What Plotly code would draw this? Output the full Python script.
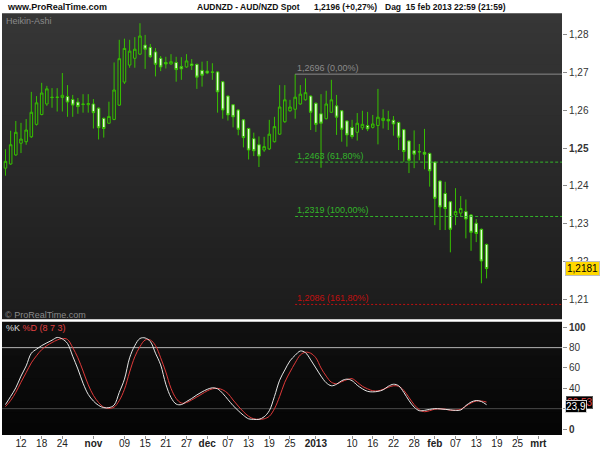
import plotly.graph_objects as go
import pandas as pd

# ---------------- data ----------------
dates = [d.strftime("%Y-%m-%d") for d in pd.bdate_range("2012-10-09", "2013-02-15")]
axis_days = [d.strftime("%Y-%m-%d") for d in pd.bdate_range("2012-10-09", "2013-03-08")]

open_ = [1.2447, 1.2458, 1.2482, 1.2513, 1.2517, 1.2530, 1.2563, 1.2589, 1.2617, 1.2635,
         1.2634, 1.2634, 1.2637, 1.2629, 1.2622, 1.2617, 1.2615, 1.2617, 1.2606, 1.2579,
         1.2566, 1.2576, 1.2614, 1.2675, 1.2720, 1.2738, 1.2749, 1.2773, 1.2767, 1.2755,
         1.2738, 1.2727, 1.2723, 1.2727, 1.2716, 1.2715, 1.2723, 1.2722, 1.2706, 1.2704,
         1.2702, 1.2702, 1.2676, 1.2638, 1.2615, 1.2601, 1.2575, 1.2552, 1.2525, 1.2509,
         1.2495, 1.2498, 1.2517, 1.2537, 1.2570, 1.2599, 1.2603, 1.2617, 1.2628, 1.2638,
         1.2619, 1.2591, 1.2578, 1.2595, 1.2612, 1.2599, 1.2572, 1.2555, 1.2542, 1.2554,
         1.2560, 1.2555, 1.2560, 1.2573, 1.2576, 1.2574, 1.2568, 1.2549, 1.2519, 1.2493,
         1.2491, 1.2489, 1.2486, 1.2463, 1.2413, 1.2380, 1.2358, 1.2323, 1.2328, 1.2332,
         1.2323, 1.2301, 1.2285, 1.2245]
high = [1.2497, 1.2546, 1.2572, 1.2567, 1.2577, 1.2649, 1.2638, 1.2673, 1.2665, 1.2659,
        1.2659, 1.2699, 1.2667, 1.2641, 1.2633, 1.2643, 1.2643, 1.2630, 1.2608, 1.2581,
        1.2623, 1.2727, 1.2787, 1.2790, 1.2787, 1.2794, 1.2831, 1.2800, 1.2776, 1.2765,
        1.2744, 1.2742, 1.2749, 1.2742, 1.2741, 1.2749, 1.2736, 1.2724, 1.2729, 1.2731,
        1.2725, 1.2704, 1.2678, 1.2640, 1.2617, 1.2603, 1.2577, 1.2554, 1.2541, 1.2531,
        1.2530, 1.2575, 1.2583, 1.2667, 1.2667, 1.2628, 1.2696, 1.2667, 1.2685, 1.2640,
        1.2621, 1.2643, 1.2652, 1.2681, 1.2641, 1.2601, 1.2574, 1.2575, 1.2593, 1.2599,
        1.2596, 1.2588, 1.2657, 1.2603, 1.2599, 1.2585, 1.2570, 1.2551, 1.2521, 1.2547,
        1.2511, 1.2551, 1.2488, 1.2465, 1.2415, 1.2411, 1.2360, 1.2394, 1.2373, 1.2364,
        1.2325, 1.2312, 1.2287, 1.2247]
low = [1.2427, 1.2456, 1.2480, 1.2487, 1.2509, 1.2527, 1.2560, 1.2587, 1.2612, 1.2607,
       1.2597, 1.2597, 1.2583, 1.2583, 1.2591, 1.2594, 1.2594, 1.2552, 1.2523, 1.2528,
       1.2564, 1.2574, 1.2612, 1.2670, 1.2713, 1.2713, 1.2747, 1.2710, 1.2739, 1.2690,
       1.2704, 1.2711, 1.2721, 1.2676, 1.2681, 1.2713, 1.2707, 1.2657, 1.2663, 1.2696,
       1.2681, 1.2594, 1.2578, 1.2573, 1.2555, 1.2534, 1.2502, 1.2470, 1.2479, 1.2450,
       1.2490, 1.2495, 1.2515, 1.2535, 1.2567, 1.2596, 1.2578, 1.2615, 1.2626, 1.2548,
       1.2543, 1.2448, 1.2576, 1.2593, 1.2535, 1.2517, 1.2504, 1.2525, 1.2520, 1.2548,
       1.2545, 1.2552, 1.2510, 1.2552, 1.2548, 1.2533, 1.2495, 1.2464, 1.2434, 1.2447,
       1.2468, 1.2444, 1.2398, 1.2296, 1.2283, 1.2283, 1.2224, 1.2296, 1.2320, 1.2261,
       1.2228, 1.2251, 1.2142, 1.2155]
close = [1.2465, 1.2509, 1.2542, 1.2524, 1.2548, 1.2595, 1.2620, 1.2646, 1.2657, 1.2634,
         1.2635, 1.2640, 1.2622, 1.2614, 1.2610, 1.2616, 1.2618, 1.2594, 1.2554, 1.2552,
         1.2584, 1.2654, 1.2737, 1.2764, 1.2757, 1.2762, 1.2797, 1.2762, 1.2742, 1.2722,
         1.2715, 1.2723, 1.2729, 1.2708, 1.2710, 1.2731, 1.2719, 1.2688, 1.2693, 1.2699,
         1.2701, 1.2649, 1.2601, 1.2588, 1.2583, 1.2550, 1.2528, 1.2495, 1.2493, 1.2479,
         1.2504, 1.2537, 1.2557, 1.2609, 1.2628, 1.2609, 1.2635, 1.2643, 1.2647, 1.2595,
         1.2563, 1.2566, 1.2617, 1.2628, 1.2582, 1.2550, 1.2535, 1.2531, 1.2566, 1.2563,
         1.2551, 1.2564, 1.2582, 1.2579, 1.2572, 1.2564, 1.2529, 1.2491, 1.2468, 1.2484,
         1.2490, 1.2484, 1.2440, 1.2367, 1.2344, 1.2340, 1.2285, 1.2332, 1.2340, 1.2312,
         1.2277, 1.2274, 1.2201, 1.2181]

stoch_k = [24, 32, 40.5, 52, 62, 74.5, 78.5, 82, 84.7, 87.3,
           90, 88.5, 84, 71.5, 59, 45, 34, 27.5, 23.2, 21,
           21, 23.5, 36, 49, 70, 82, 89, 89.5, 86, 74.5,
           63, 44, 31, 24.5, 24, 27, 30, 33.5, 36.5, 39,
           40.5, 39.5, 35, 29, 23, 18, 13.5, 10, 9.5, 9.5,
           12, 18, 32, 48, 58, 67, 72.5, 76.7, 75, 68,
           60, 52, 45.5, 42.5, 44, 47.5, 49, 47.5, 43, 39.5,
           37, 36.5, 37, 38.5, 42, 44, 42.5, 36, 28, 21.5,
           18, 18.3, 19.3, 20, 19.8, 19.3, 18.8, 18.3, 18.7, 23,
           26.5, 28, 27, 23.9]
stoch_d = [22, 28, 36, 46, 55.5, 65, 72, 78, 82, 85,
           87.5, 89, 88, 80, 70, 57, 43.5, 33, 26, 21.5,
           20.3, 21.5, 28, 39, 56, 71, 81, 87.5, 87.5, 82,
           70, 56, 40, 30, 25.5, 26, 28.5, 31.5, 34.5, 37.5,
           39.5, 40, 38.5, 35, 28.5, 22.5, 17, 12.5, 10, 9.5,
           10, 12.5, 20, 32, 46, 56, 65, 72.8, 75.5, 74.5,
           70, 60, 52, 46, 44.5, 46.5, 48.5, 49.5, 46, 42,
           39.5, 37.6, 37.5, 39, 41, 42.5, 42, 38, 31, 24,
           19, 17, 18, 19.5, 19.8, 19.5, 18.5, 18.5, 19.3, 22.5,
           25.5, 27.5, 27.5, 26.5]

tick_dates = ["2012-10-12", "2012-10-18", "2012-10-24", "2012-11-01", "2012-11-09",
              "2012-11-15", "2012-11-21", "2012-11-27", "2012-12-03", "2012-12-07",
              "2012-12-13", "2012-12-19", "2012-12-25", "2013-01-01", "2013-01-10",
              "2013-01-16", "2013-01-22", "2013-01-28", "2013-02-01", "2013-02-07",
              "2013-02-13", "2013-02-19", "2013-02-25", "2013-03-01"]
tick_labels = ["12", "18", "24", "<b>nov</b>", "09", "15", "21", "27", "<b>dec</b>", "07",
               "13", "19", "25", "<b>2013</b>", "10", "16", "22", "28", "<b>feb</b>", "07",
               "13", "19", "25", "<b>mrt</b>"]

price_ticks = [1.21, 1.22, 1.23, 1.24, 1.25, 1.26, 1.27, 1.28]
price_tick_labels = ["1,21", "1,22", "1,23", "1,24", "<b>1,25</b>", "1,26", "1,27", "1,28"]
stoch_ticks = [0, 20, 40, 60, 80, 100]
stoch_tick_labels = ["<b>0</b>", "20", "40", "60", "80", "<b>100</b>"]

fib_start = "2012-12-26"
fib_levels = [1.2696, 1.2463, 1.2319, 1.2086]
fib_labels = ["1,2696 (0,00%)", "1,2463 (61,80%)", "1,2319 (100,00%)", "1,2086 (161,80%)"]
fib_colors = ["#8a8a8a", "#33b52a", "#33b52a", "#c01010"]
fib_dash = ["solid", "3px,2px", "3px,2px", "2px,2px"]
last_price = 1.2181

# ---------------- positions ----------------
pos = {d: i for i, d in enumerate(axis_days)}
xc = [pos[d] for d in dates]
xt = [pos[d] for d in tick_dates]
x_range = [-0.67, 107.58]

W, H = 600, 450
main_top, main_bot = 13.3, 319.3
ind_top, ind_bot = 321.7, 435
px_l, px_r = 2, 562

def py(v):
    return 1 - v / H

fig = go.Figure()

# gradient background for the panels (overlapping bands to avoid seams)
shapes = []
n = 30
for k in range(n):
    y0 = main_top + (main_bot - main_top) * k / n
    y1 = min(main_bot, main_top + (main_bot - main_top) * (k + 1) / n + 1.5)
    c = int(round(54 - (54 - 28) * k / (n - 1)))
    shapes.append(dict(type="rect", xref="paper", yref="paper", x0=px_l / W, x1=px_r / W,
                       y0=py(y1), y1=py(y0), fillcolor=f"rgb({c},{c},{c})",
                       line=dict(width=0), layer="below"))
n2 = 10
for k in range(n2):
    y0 = ind_top + (ind_bot - ind_top) * k / n2
    y1 = min(ind_bot, ind_top + (ind_bot - ind_top) * (k + 1) / n2 + 1.5)
    c = int(round(16 - 11 * k / (n2 - 1)))
    shapes.append(dict(type="rect", xref="paper", yref="paper", x0=px_l / W, x1=px_r / W,
                       y0=py(y1), y1=py(y0), fillcolor=f"rgb({c},{c},{c})",
                       line=dict(width=0), layer="below"))

# Heikin-Ashi candles
fig.add_trace(go.Candlestick(
    x=xc, open=open_, high=high, low=low, close=close,
    increasing=dict(line=dict(color="#36c000", width=1), fillcolor="rgba(40,40,40,0.6)"),
    decreasing=dict(line=dict(color="#36c000", width=1), fillcolor="#e4ffd6"),
    whiskerwidth=0, xaxis="x", yaxis="y", showlegend=False, hoverinfo="skip"))

# Fibonacci levels
fx0 = pos[fib_start]
for lvl, col, dsh in zip(fib_levels, fib_colors, fib_dash):
    fig.add_trace(go.Scatter(x=[fx0, x_range[1] + 2], y=[lvl, lvl], mode="lines",
                             line=dict(color=col, width=1, dash=dsh),
                             xaxis="x", yaxis="y", showlegend=False, hoverinfo="skip"))

# stochastic
fig.add_trace(go.Scatter(x=[x_range[0], x_range[1]], y=[80, 80], mode="lines",
                         line=dict(color="#b4b4b4", width=1), xaxis="x2", yaxis="y2",
                         showlegend=False, hoverinfo="skip"))
fig.add_trace(go.Scatter(x=[x_range[0], x_range[1]], y=[20, 20], mode="lines",
                         line=dict(color="#4a4a4a", width=1), xaxis="x2", yaxis="y2",
                         showlegend=False, hoverinfo="skip"))
fig.add_trace(go.Scatter(x=xc, y=stoch_d, mode="lines",
                         line=dict(color="#e03a3a", width=1, shape="spline", smoothing=1),
                         xaxis="x2", yaxis="y2", showlegend=False, hoverinfo="skip"))
fig.add_trace(go.Scatter(x=xc, y=stoch_k, mode="lines",
                         line=dict(color="#e6e6e6", width=1, shape="spline", smoothing=1),
                         xaxis="x2", yaxis="y2", showlegend=False, hoverinfo="skip"))

FONT = "Liberation Sans, Arial, sans-serif"
ann = []
# header
ann.append(dict(xref="paper", yref="paper", x=5 / W, y=py(7), xanchor="left", yanchor="middle",
                text="<b>www.ProRealTime.com</b>", showarrow=False,
                font=dict(family=FONT, size=9, color="#111")))
ann.append(dict(xref="paper", yref="paper", x=195 / W, y=py(7), xanchor="left", yanchor="middle",
                text="<b>AUDNZD - AUD/NZD Spot</b>", showarrow=False,
                font=dict(family=FONT, size=8.5, color="#111")))
ann.append(dict(xref="paper", yref="paper", x=312 / W, y=py(7), xanchor="left", yanchor="middle",
                text="<b>1,2196 (+0,27%)</b>", showarrow=False,
                font=dict(family=FONT, size=8.5, color="#111")))
ann.append(dict(xref="paper", yref="paper", x=508 / W, y=py(7), xanchor="right", yanchor="middle",
                text="<b>Dag  15 feb 2013 22:59 (21:59)</b>", showarrow=False,
                font=dict(family=FONT, size=8.5, color="#111")))
ann.append(dict(xref="paper", yref="paper", x=4 / W, y=py(21), xanchor="left", yanchor="middle",
                text="Heikin-Ashi", showarrow=False, font=dict(family=FONT, size=9, color="#8a8a8a")))
ann.append(dict(xref="paper", yref="paper", x=3 / W, y=py(314.5), xanchor="left", yanchor="middle",
                text="© ProRealTime.com", showarrow=False, font=dict(family=FONT, size=9, color="#8a8a8a")))
ann.append(dict(xref="paper", yref="paper", x=4 / W, y=py(327.5), xanchor="left", yanchor="middle",
                text="<span style='color:#dddddd'>%K</span> <span style='color:#e04040'>%D (8 7 3)</span>",
                showarrow=False, font=dict(family=FONT, size=9, color="#ddd")))
for lvl, lab, col in zip(fib_levels, fib_labels, fib_colors):
    ann.append(dict(xref="x", yref="y", x=fx0, y=lvl, xanchor="left", yanchor="bottom",
                    text=lab, showarrow=False, xshift=0, yshift=-1,
                    font=dict(family=FONT, size=9, color=col)))
# last price label
ann.append(dict(xref="paper", yref="y", x=565 / W, y=last_price, xanchor="left", yanchor="middle",
                text="1,2181", showarrow=False, bgcolor="#ffd800", bordercolor="#bdbdbd",
                borderwidth=1, borderpad=1, font=dict(family=FONT, size=10, color="#000")))
# stochastic value labels (red %D label sits partly behind the %K label)
ann.append(dict(xref="paper", yref="y2", x=566 / W, y=stoch_d[-1], xanchor="left", yanchor="middle",
                text="26,53", showarrow=False, bgcolor="#000", bordercolor="#555",
                borderwidth=1, borderpad=0, font=dict(family=FONT, size=10, color="#e04040")))
ann.append(dict(xref="paper", yref="y2", x=565 / W, y=stoch_k[-1] - 1.5, xanchor="left", yanchor="middle",
                text="23,9", showarrow=False, bgcolor="#000", bordercolor="#cfcfcf",
                borderwidth=1, borderpad=0, font=dict(family=FONT, size=10, color="#fff")))

axis_common = dict(showgrid=False, zeroline=False, showline=False)

fig.update_layout(
    width=W, height=H, margin=dict(l=0, r=0, t=0, b=0, autoexpand=False),
    paper_bgcolor="#ffffff", plot_bgcolor="rgba(0,0,0,0)",
    showlegend=False, shapes=shapes, annotations=ann,
    xaxis=dict(domain=[px_l / W, px_r / W], range=x_range, anchor="y", showticklabels=False,
               ticks="", rangeslider=dict(visible=False), **axis_common),
    yaxis=dict(domain=[py(main_bot), py(main_top)], range=[1.20466, 1.28572], anchor="x",
               side="right", tickmode="array", tickvals=price_ticks, ticktext=price_tick_labels,
               ticks="outside", ticklen=4, tickcolor="#8c8c8c",
               tickfont=dict(family=FONT, size=10, color="#333"), **axis_common),
    xaxis2=dict(domain=[px_l / W, px_r / W], range=x_range, anchor="y2", matches="x",
                tickmode="array", tickvals=xt, ticktext=tick_labels,
                ticks="outside", ticklen=3, tickcolor="#8c8c8c", ticklabelstandoff=-4,
                tickfont=dict(family=FONT, size=10, color="#222"), **axis_common),
    yaxis2=dict(domain=[py(ind_bot), py(ind_top)], range=[-5.9, 105.5], anchor="x2",
                side="right", tickmode="array", tickvals=stoch_ticks, ticktext=stoch_tick_labels,
                ticks="outside", ticklen=4, tickcolor="#8c8c8c",
                tickfont=dict(family=FONT, size=10, color="#333"), **axis_common),
)

fig.write_html("out.html", config={"displayModeBar": False},
               post_script="document.body.style.margin='0';document.body.style.padding='0';")
